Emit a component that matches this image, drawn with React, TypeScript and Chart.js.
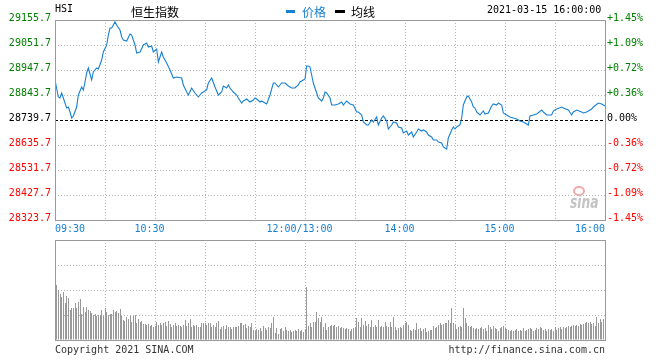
import React, { useEffect, useRef } from "react";
import { Chart, registerables } from "chart.js";

Chart.register(...registerables);

const MONO = '"DejaVu Sans Mono", monospace';
const CJK = '"Noto Sans CJK SC", sans-serif';
const BLUE = "#1780d0";
const GRID = "#b4b4b4";
const FRAME = "#999999";
const UP = "#008000";
const DOWN = "#ff0000";

// Index info
const indexCode = "HSI";
const indexName = "恒生指数";
const seriesName = "价格";
const avgName = "均线";
const stampText = "2021-03-15 16:00:00";
const prevClose = 28739.7;
const priceMin = 28323.7;
const priceMax = 29155.7;
const priceStep = 104;
const sessionMinutes = 330;
const gridMinutes = 30;

// x-axis labels (trading minutes from 09:30)
const tickMinutes = [0, 60, 150, 210, 270, 330];
const tickTexts = ["09:30", "10:30", "12:00/13:00", "14:00", "15:00", "16:00"];

// price series (trading minute, index level)
const priceMinutes = [
  0, 2, 3, 4, 5, 7, 8, 9, 10, 11, 13, 14, 16, 17, 18, 19, 20, 22, 23, 25, 26, 28, 29, 31, 32, 33, 34, 36, 37, 39,
  40, 41, 43, 45, 46, 48, 49, 51, 53, 55, 56, 58, 59, 61, 62, 64, 65, 67, 69, 71, 73, 76, 77, 79, 80, 82, 84, 86, 88, 91,
  92, 94, 96, 98, 100, 101, 103, 104, 105, 107, 109, 110, 112, 113, 115, 117, 119, 120, 121, 123, 124, 126, 127, 129, 131, 132, 134, 136, 138, 140,
  142, 144, 146, 147, 149, 150, 151, 152, 153, 154, 155, 157, 158, 160, 161, 162, 163, 165, 166, 168, 170, 172, 173, 175, 177, 179, 181, 182, 184, 185,
  187, 188, 190, 191, 193, 194, 196, 197, 199, 200, 202, 203, 205, 206, 208, 209, 211, 212, 214, 215, 217, 218, 220, 221, 223, 224, 226, 227, 229, 230,
  232, 233, 235, 236, 238, 239, 240, 241, 243, 244, 245, 247, 248, 250, 251, 252, 253, 255, 257, 258, 260, 262, 263, 265, 266, 268, 269, 271, 273, 275,
  277, 279, 281, 284, 285, 287, 289, 292, 293, 295, 298, 299, 301, 304, 305, 308, 310, 311, 313, 316, 317, 319, 322, 323, 326, 328, 330,
];
const priceValues = [
  28906.1, 28835.4, 28831.2, 28852.0, 28831.2, 28789.6, 28793.8, 28773.0, 28748.0, 28756.3, 28793.8, 28843.7, 28877.0, 28864.5, 28897.8, 28935.2, 28956.0, 28906.1, 28939.4, 28956.0, 28951.9, 28989.3, 29022.6, 29051.7, 29093.3, 29122.4, 29122.4, 29147.4, 29134.9, 29114.1,
  29085.0, 29072.5, 29068.3, 29097.5, 29093.3, 29051.7, 29018.4, 29022.6, 29051.7, 29060.0, 29043.4, 29047.5, 29022.6, 29035.1, 28981.0, 29022.6, 29001.8, 28976.8, 28947.7, 28914.4, 28918.6, 28914.4, 28885.3, 28856.2, 28843.7, 28872.8, 28852.0, 28835.4, 28852.0, 28864.5,
  28893.6, 28914.4, 28877.0, 28843.7, 28856.2, 28881.1, 28872.8, 28885.3, 28872.8, 28856.2, 28843.7, 28831.2, 28810.4, 28818.7, 28827.1, 28814.6, 28822.9, 28831.2, 28827.1, 28814.6, 28818.7, 28810.4, 28806.3, 28843.7, 28893.6, 28893.6, 28877.0, 28893.6, 28893.6, 28881.1,
  28872.8, 28872.8, 28885.3, 28897.8, 28906.1, 28910.3, 28964.3, 28964.3, 28960.2, 28926.9, 28893.6, 28852.0, 28831.2, 28818.7, 28831.2, 28856.2, 28852.0, 28831.2, 28802.1, 28802.1, 28806.3, 28814.6, 28802.1, 28818.7, 28806.3, 28802.1, 28773.0, 28773.0, 28760.5, 28731.4,
  28718.9, 28718.9, 28739.7, 28731.4, 28752.2, 28718.9, 28748.0, 28756.3, 28735.5, 28702.3, 28718.9, 28731.4, 28727.2, 28710.6, 28706.4, 28685.6, 28693.9, 28677.3, 28689.8, 28669.0, 28689.8, 28702.3, 28693.9, 28698.1, 28689.8, 28677.3, 28669.0, 28656.5, 28656.5, 28648.2,
  28644.0, 28627.4, 28619.1, 28664.8, 28698.1, 28710.6, 28702.3, 28710.6, 28718.9, 28748.0, 28802.1, 28835.4, 28839.5, 28814.6, 28793.8, 28789.6, 28773.0, 28760.5, 28777.1, 28764.7, 28768.8, 28797.9, 28806.3, 28802.1, 28810.4, 28802.1, 28768.8, 28760.5, 28752.2, 28748.0,
  28743.9, 28735.5, 28731.4, 28718.9, 28756.3, 28760.5, 28764.7, 28781.3, 28773.0, 28760.5, 28760.5, 28777.1, 28785.5, 28793.8, 28789.6, 28781.3, 28760.5, 28773.0, 28781.3, 28773.0, 28768.8, 28773.0, 28785.5, 28793.8, 28810.4, 28806.3, 28797.9,
];

// per-minute volume (relative units, index = trading minute)
const volumes = [
  48,
  55, 50, 46, 43, 48, 37, 44, 42, 30, 32,
  32, 37, 32, 38, 41, 26, 33, 28, 33, 30,
  29, 27, 25, 26, 24, 25, 25, 30, 24, 32,
  28, 25, 26, 26, 30, 28, 29, 27, 31, 24,
  20, 19, 23, 21, 24, 18, 24, 25, 17, 21,
  18, 19, 16, 16, 15, 16, 14, 15, 13, 14,
  18, 15, 17, 15, 17, 18, 14, 19, 16, 13,
  15, 17, 14, 15, 14, 13, 15, 20, 14, 17,
  21, 13, 15, 14, 15, 13, 13, 17, 17, 17,
  15, 17, 17, 13, 15, 13, 17, 19, 11, 13,
  14, 11, 15, 13, 13, 11, 13, 13, 13, 14,
  17, 17, 15, 16, 12, 14, 13, 17, 10, 9,
  11, 10, 12, 9, 14, 12, 10, 13, 12, 17,
  23, 7, 12, 6, 11, 12, 9, 13, 10, 9,
  10, 8, 9, 10, 9, 11, 9, 10, 8, 11,
  53, 14, 17, 13, 18, 18, 28, 22, 18, 23,
  13, 17, 10, 13, 14, 15, 14, 15, 13, 14,
  12, 13, 12, 11, 12, 11, 9, 11, 12, 13,
  22, 18,
  13, 22, 15, 19, 14, 16, 13, 20, 13, 15,
  13, 20, 13, 14, 13, 18, 14, 13, 18, 13,
  23, 13, 10, 12, 13, 12, 15, 17, 18, 15,
  10, 9, 11, 10, 17, 11, 12, 9, 11, 12,
  8, 9, 10, 10, 14, 12, 13, 15, 17, 15,
  16, 17, 17, 20, 17, 32, 17, 15, 11, 13,
  14, 13, 32, 22, 17, 14, 13, 14, 12, 11,
  12, 11, 12, 13, 11, 12, 9, 15, 13, 11,
  14, 12, 11, 9, 12, 13, 14, 12, 11, 10,
  9, 10, 9, 10, 11, 9, 10, 9, 12, 9,
  10, 11, 12, 11, 9, 10, 12, 11, 13, 12,
  10, 11, 9, 11, 10, 11, 9, 13, 10, 12,
  13, 11, 13, 12, 13, 14, 13, 14, 15, 14,
  15, 14, 16, 15, 16, 17, 18, 17, 18, 16,
  17, 14, 23, 17, 21, 18, 21, 22,
];
const volumeMax = 100;
const volumeStep = 25;

const levelColor = (v: number) =>
  Math.abs(v - prevClose) < 0.01 ? "#000000" : v > prevClose ? UP : DOWN;

const pctLabel = (v: number) => {
  const p = ((v - prevClose) / prevClose) * 100;
  const s = Math.abs(p).toFixed(2);
  if (s === "0.00") return "0.00%";
  return (p > 0 ? "+" : "-") + s + "%";
};

const framePlugin = {
  id: "frame",
  afterDraw(chart: any) {
    const { ctx, chartArea } = chart;
    ctx.save();
    ctx.strokeStyle = FRAME;
    ctx.lineWidth = 1;
    ctx.setLineDash([]);
    ctx.strokeRect(
      chartArea.left + 0.5,
      chartArea.top + 0.5,
      chartArea.right - chartArea.left,
      chartArea.bottom - chartArea.top
    );
    ctx.restore();
  },
};

// snap bar elements (positioned by the x scale) onto whole pixel columns so they render crisp
const snapBarsPlugin = {
  id: "snapBars",
  beforeDatasetsDraw(chart: any) {
    chart.getSortedVisibleDatasetMetas().forEach((meta: any) => {
      meta.data.forEach((el: any) => {
        el.x = Math.floor(el.x) + 0.5;
        el.y = Math.round(el.y);
      });
    });
  },
};

const prevClosePlugin = {
  id: "prevClose",
  beforeDatasetsDraw(chart: any) {
    const { ctx, chartArea, scales } = chart;
    const y = Math.round(scales.y.getPixelForValue(prevClose)) + 0.5;
    ctx.save();
    ctx.strokeStyle = "#000000";
    ctx.lineWidth = 1;
    ctx.setLineDash([3, 2]);
    ctx.beginPath();
    ctx.moveTo(chartArea.left, y);
    ctx.lineTo(chartArea.right, y);
    ctx.stroke();
    ctx.restore();
  },
};

const timeLabelPlugin = {
  id: "timeLabels",
  afterDraw(chart: any) {
    const { ctx, chartArea, scales } = chart;
    ctx.save();
    ctx.font = `10px ${MONO}`;
    ctx.fillStyle = BLUE;
    ctx.textBaseline = "alphabetic";
    tickMinutes.forEach((m, i) => {
      const px = scales.x.getPixelForValue(m);
      if (i === 0) {
        ctx.textAlign = "left";
        ctx.fillText(tickTexts[i], px, chartArea.bottom + 12);
      } else if (i === tickMinutes.length - 1) {
        ctx.textAlign = "right";
        ctx.fillText(tickTexts[i], px, chartArea.bottom + 12);
      } else {
        ctx.textAlign = "center";
        ctx.fillText(tickTexts[i], px - 5.5, chartArea.bottom + 12);
      }
    });
    ctx.restore();
  },
};

export default function App() {
  const mainRef = useRef<HTMLCanvasElement>(null);
  const volRef = useRef<HTMLCanvasElement>(null);

  useEffect(() => {
    const main = new Chart(mainRef.current as HTMLCanvasElement, {
      type: "line",
      data: {
        datasets: [
          {
            label: seriesName,
            data: priceMinutes.map((m, i) => ({ x: m, y: priceValues[i] })),
            borderColor: BLUE,
            borderWidth: 1.1,
            pointRadius: 0,
            tension: 0,
            fill: false,
            yAxisID: "y",
          },
        ],
      },
      options: {
        animation: false,
        responsive: false,
        maintainAspectRatio: false,
        layout: { padding: { top: 20, left: 0, right: 0, bottom: 0 } },
        plugins: { legend: { display: false }, tooltip: { enabled: false } },
        scales: {
          x: {
            type: "linear",
            min: 0,
            max: sessionMinutes,
            afterFit: (s: any) => {
              s.height = 20;
            },
            ticks: { display: false, stepSize: gridMinutes },
            grid: { color: GRID, lineWidth: 1, drawTicks: false },
            border: { display: false, dash: [1, 2] },
          },
          y: {
            type: "linear",
            position: "left",
            min: priceMin,
            max: priceMax,
            afterFit: (s: any) => {
              s.width = 55;
            },
            ticks: {
              stepSize: priceStep,
              padding: 4,
              labelOffset: -2,
              font: { family: MONO, size: 10 },
              color: (c: any) => levelColor(c.tick.value),
              callback: (v: any) => Number(v).toFixed(1),
            },
            grid: {
              color: (c: any) =>
                c.tick && Math.abs(c.tick.value - prevClose) < 0.01 ? "rgba(0,0,0,0)" : GRID,
              lineWidth: 1,
              drawTicks: false,
            },
            border: { display: false, dash: [1, 2] },
          },
          y1: {
            type: "linear",
            position: "right",
            min: priceMin,
            max: priceMax,
            afterFit: (s: any) => {
              s.width = 55;
            },
            ticks: {
              stepSize: priceStep,
              padding: 2,
              labelOffset: -2,
              font: { family: MONO, size: 10 },
              color: (c: any) => levelColor(c.tick.value),
              callback: (v: any) => pctLabel(Number(v)),
            },
            grid: { drawOnChartArea: false, drawTicks: false },
            border: { display: false },
          },
        },
      },
      plugins: [prevClosePlugin, framePlugin, timeLabelPlugin],
    } as any);

    const vol = new Chart(volRef.current as HTMLCanvasElement, {
      type: "bar",
      data: {
        datasets: [
          {
            label: "volume",
            data: volumes.map((v, i) => ({ x: i, y: v })),
            backgroundColor: "#999999",
            borderWidth: 0,
            barThickness: 1,
            inflateAmount: 0,
          },
        ],
      },
      options: {
        animation: false,
        responsive: false,
        maintainAspectRatio: false,
        layout: { padding: { top: 10, left: 0, right: 55, bottom: 0 } },
        plugins: { legend: { display: false }, tooltip: { enabled: false } },
        scales: {
          x: {
            type: "linear",
            min: 0,
            max: sessionMinutes,
            offset: false,
            afterFit: (s: any) => {
              s.height = 10;
            },
            ticks: { display: false, stepSize: gridMinutes },
            grid: { color: GRID, lineWidth: 1, drawTicks: false, offset: false },
            border: { display: false, dash: [1, 2] },
          },
          y: {
            type: "linear",
            min: 0,
            max: volumeMax,
            afterFit: (s: any) => {
              s.width = 55;
            },
            ticks: { display: false, stepSize: volumeStep },
            grid: { color: GRID, lineWidth: 1, drawTicks: false },
            border: { display: false, dash: [1, 2] },
          },
        },
      },
      plugins: [snapBarsPlugin, framePlugin],
    } as any);

    return () => {
      main.destroy();
      vol.destroy();
    };
  }, []);

  const txt = (extra: React.CSSProperties): React.CSSProperties => ({
    position: "absolute",
    whiteSpace: "nowrap",
    lineHeight: "12px",
    ...extra,
  });

  return (
    <div
      style={{
        position: "absolute",
        left: 0,
        top: 0,
        width: 660,
        height: 360,
        background: "#ffffff",
        overflow: "hidden",
      }}
    >
      <canvas ref={mainRef} width={660} height={240} style={{ position: "absolute", left: 0, top: 0 }} />
      <canvas ref={volRef} width={660} height={120} style={{ position: "absolute", left: 0, top: 230 }} />

      <div style={txt({ left: 55, top: 3, font: `10px ${MONO}`, color: "#000" })}>{indexCode}</div>
      <div style={txt({ left: 131, top: 3, font: `12px ${CJK}`, color: "#000" })}>{indexName}</div>
      <div style={{ position: "absolute", left: 286, top: 10, width: 9, height: 3, background: BLUE }} />
      <div style={txt({ left: 302, top: 3, font: `12px ${CJK}`, color: BLUE })}>{seriesName}</div>
      <div style={{ position: "absolute", left: 335, top: 10, width: 10, height: 3, background: "#000" }} />
      <div style={txt({ left: 351, top: 3, font: `12px ${CJK}`, color: "#000" })}>{avgName}</div>
      <div style={txt({ left: 487, top: 4, font: `10px ${MONO}`, color: "#000" })}>{stampText}</div>

      <div
        style={{
          position: "absolute",
          left: 573,
          top: 186,
          width: 8,
          height: 6,
          border: "2px solid #f2a9a9",
          borderRadius: "50%",
        }}
      />
      <div
        style={txt({
          left: 570,
          top: 192,
          font: `italic bold 17px "DejaVu Sans", sans-serif`,
          color: "#c4c4c4",
          lineHeight: "20px",
          transform: "scaleX(0.72)",
          transformOrigin: "left top",
        })}
      >
        sina
      </div>

      <div style={txt({ left: 55, top: 344, font: `10px ${MONO}`, color: "#333" })}>Copyright 2021 SINA.COM</div>
      <div style={txt({ right: 55, top: 344, font: `10px ${MONO}`, color: "#333" })}>http://finance.sina.com.cn</div>
    </div>
  );
}
